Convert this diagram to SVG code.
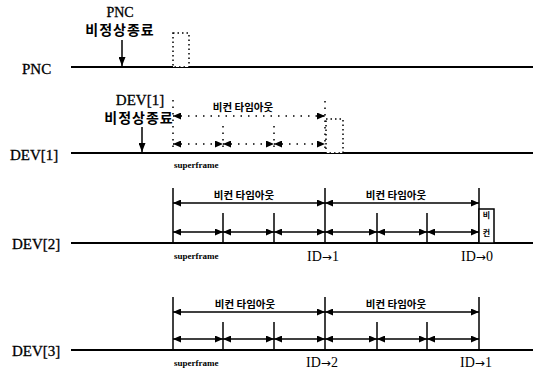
<svg xmlns="http://www.w3.org/2000/svg" width="533" height="370" viewBox="0 0 533 370">
<style>
.lbl{font-family:"Liberation Serif",serif;font-size:15px;fill:#000;stroke:#000;stroke-width:0.3}
.ko{font-family:"Noto Sans CJK KR",sans-serif;font-size:14px;font-weight:bold;fill:#000;letter-spacing:1px}
.bt{font-family:"Noto Sans CJK KR",sans-serif;font-size:10.5px;font-weight:bold;fill:#000}
.sf{font-family:"Liberation Serif",serif;font-size:9px;font-weight:bold;fill:#000}
.id{font-family:"Liberation Serif",serif;font-size:14px;fill:#000}
.arw{font-family:"DejaVu Sans",sans-serif;font-size:12px}
.tl{stroke:#000;stroke-width:2;fill:none}
.vs{stroke:#000;stroke-width:1.5;fill:none}
.vd{stroke:#000;stroke-width:1.5;stroke-dasharray:1.5 5;fill:none}
.ar{stroke:#000;stroke-width:1.5;fill:none;marker-start:url(#ah);marker-end:url(#ah)}
.ad{stroke:#000;stroke-width:1.5;stroke-dasharray:1.5 6;fill:none;marker-start:url(#ah);marker-end:url(#ah)}
.dn{stroke:#000;stroke-width:1.5;fill:none;marker-end:url(#dh)}
.bx{stroke:#000;stroke-width:1.5;fill:#fff}
.bd{stroke:#000;stroke-width:1.5;stroke-dasharray:1.5 3;fill:#fff}
</style>
<defs>
<marker id="ah" viewBox="0 0 8 7" refX="8" refY="3.5" markerWidth="8" markerHeight="7" markerUnits="userSpaceOnUse" orient="auto-start-reverse"><path d="M0,0 L8,3.5 L0,7 z" fill="#000"/></marker>
<marker id="dh" viewBox="0 0 7 9" refX="3.5" refY="9" markerWidth="7" markerHeight="9" markerUnits="userSpaceOnUse" orient="0"><path d="M0,0 L7,0 L3.5,9 z" fill="#000"/></marker>
</defs>
<rect width="533" height="370" fill="#fff"/>

<g id="row-pnc">
<text class="lbl" x="22" y="74">PNC</text>
<line class="tl" x1="71" y1="67" x2="533" y2="67"/>
<text class="lbl" x="120" y="17" text-anchor="middle" style="font-size:14px">PNC</text>
<text class="ko" x="120" y="35" text-anchor="middle">비정상종료</text>
<rect class="bd" x="173" y="33" width="16" height="34"/>
</g>

<g id="row-dev1">
<text class="lbl" x="10" y="160">DEV[1]</text>
<line class="tl" x1="71" y1="153" x2="533" y2="153"/>
<text class="lbl" x="140" y="105" text-anchor="middle">DEV[1]</text>
<text class="ko" x="139" y="123" text-anchor="middle">비정상종료</text>
<line class="vd" x1="173" y1="100" x2="173" y2="153"/>
<line class="vd" x1="223" y1="126" x2="223" y2="153"/>
<line class="vd" x1="274" y1="126" x2="274" y2="153"/>
<line class="vd" x1="325" y1="101" x2="325" y2="153"/>
<rect class="bd" x="326" y="119" width="17" height="34"/>
<text class="bt" x="243" y="111" text-anchor="middle">비컨 타임아웃</text>
<text class="sf" x="174" y="168">superframe</text>
</g>

<g id="row-dev2">
<text class="lbl" x="12" y="249">DEV[2]</text>
<line class="tl" x1="71" y1="243" x2="533" y2="243"/>
<line class="vs" x1="173" y1="188" x2="173" y2="243"/>
<line class="vs" x1="223" y1="213" x2="223" y2="243"/>
<line class="vs" x1="274" y1="213" x2="274" y2="243"/>
<line class="vs" x1="325" y1="188" x2="325" y2="243"/>
<line class="vs" x1="377" y1="213" x2="377" y2="243"/>
<line class="vs" x1="427" y1="213" x2="427" y2="243"/>
<line class="vs" x1="479" y1="188" x2="479" y2="243"/>
<rect class="bx" x="479" y="209" width="15" height="34"/>
<text class="bt" x="486.5" y="218" text-anchor="middle" style="font-size:8px">비</text>
<text class="bt" x="486.5" y="236" text-anchor="middle" style="font-size:8px">컨</text>
<text class="bt" x="244" y="199" text-anchor="middle">비컨 타임아웃</text>
<text class="bt" x="396" y="199" text-anchor="middle">비컨 타임아웃</text>
<text class="sf" x="174" y="259">superframe</text>
<text class="id" x="323" y="261" text-anchor="middle">ID<tspan class="arw">→</tspan>1</text>
<text class="id" x="477" y="261" text-anchor="middle">ID<tspan class="arw">→</tspan>0</text>
</g>

<g id="row-dev3">
<text class="lbl" x="12" y="356">DEV[3]</text>
<line class="tl" x1="71" y1="350" x2="533" y2="350"/>
<line class="vs" x1="173" y1="297" x2="173" y2="350"/>
<line class="vs" x1="223" y1="322" x2="223" y2="350"/>
<line class="vs" x1="274" y1="322" x2="274" y2="350"/>
<line class="vs" x1="325" y1="297" x2="325" y2="350"/>
<line class="vs" x1="377" y1="322" x2="377" y2="350"/>
<line class="vs" x1="427" y1="322" x2="427" y2="350"/>
<line class="vs" x1="479" y1="297" x2="479" y2="350"/>
<text class="bt" x="245" y="308" text-anchor="middle">비컨 타임아웃</text>
<text class="bt" x="396" y="308" text-anchor="middle">비컨 타임아웃</text>
<text class="sf" x="174" y="366">superframe</text>
<text class="id" x="322" y="367" text-anchor="middle">ID<tspan class="arw">→</tspan>2</text>
<text class="id" x="476" y="367" text-anchor="middle">ID<tspan class="arw">→</tspan>1</text>
</g>

<g id="connectors">
<line class="dn" x1="122" y1="40" x2="122" y2="66"/>
<line class="dn" x1="142" y1="127" x2="142" y2="152"/>
<line class="ad" x1="173" y1="116" x2="325" y2="116"/>
<line class="ad" x1="173" y1="144" x2="223" y2="144"/>
<line class="ad" x1="223" y1="144" x2="274" y2="144"/>
<line class="ad" x1="274" y1="144" x2="325" y2="144"/>
<line class="ar" x1="173" y1="203" x2="325" y2="203"/>
<line class="ar" x1="325" y1="203" x2="479" y2="203"/>
<line class="ar" x1="173" y1="232" x2="223" y2="232"/>
<line class="ar" x1="223" y1="232" x2="274" y2="232"/>
<line class="ar" x1="274" y1="232" x2="325" y2="232"/>
<line class="ar" x1="325" y1="232" x2="377" y2="232"/>
<line class="ar" x1="377" y1="232" x2="427" y2="232"/>
<line class="ar" x1="427" y1="232" x2="479" y2="232"/>
<line class="ar" x1="173" y1="312" x2="325" y2="312"/>
<line class="ar" x1="325" y1="312" x2="479" y2="312"/>
<line class="ar" x1="173" y1="339" x2="223" y2="339"/>
<line class="ar" x1="223" y1="339" x2="274" y2="339"/>
<line class="ar" x1="274" y1="339" x2="325" y2="339"/>
<line class="ar" x1="325" y1="339" x2="377" y2="339"/>
<line class="ar" x1="377" y1="339" x2="427" y2="339"/>
<line class="ar" x1="427" y1="339" x2="479" y2="339"/>
</g>
</svg>
